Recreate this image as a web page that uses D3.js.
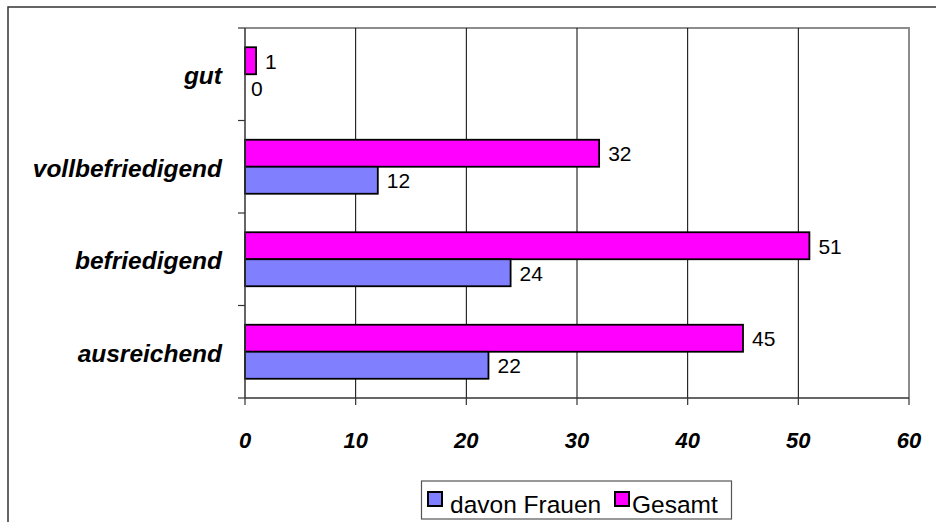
<!DOCTYPE html>
<html>
<head>
<meta charset="utf-8">
<script src="https://cdn.jsdelivr.net/npm/d3@7"></script>
<style>
  body { margin: 0; background: #fff; }
  svg { font-family: Arial, "Liberation Sans", sans-serif; }
</style>
</head>
<body>
<svg id="chart" width="936" height="522"></svg>
<script>
var categories = ['gut', 'vollbefriedigend', 'befriedigend', 'ausreichend'];
var series = ['Gesamt', 'davon Frauen'];
var gesamt = [1, 32, 51, 45];
var frauen = [0, 12, 24, 22];
var xTicks = [0, 10, 20, 30, 40, 50, 60];
var colors = { 'Gesamt': '#ff00ff', 'davon Frauen': '#8080ff' };

var svg = d3.select('#chart');
var pLeft = 245, pRight = 909, pTop = 28, pBottom = 398;

// outer frame
svg.append('path')
    .attr('d', 'M8,530 L8,7 L940,7')
    .attr('fill', 'none').attr('stroke', '#333').attr('stroke-width', 1.5);

var x = d3.scaleLinear().domain([0, 60]).range([pLeft, pRight]);
var y = d3.scaleBand().domain(categories).range([pTop, pBottom]);
var yIn = d3.scaleBand().domain(series).range([0, y.bandwidth()]).paddingOuter(0.713);

// plot border top/right
svg.append('path')
    .attr('d', 'M' + pLeft + ',' + pTop + ' L' + pRight + ',' + pTop + ' L' + pRight + ',' + pBottom)
    .attr('fill', 'none').attr('stroke', '#8c8c8c').attr('stroke-width', 2);

// grid
svg.selectAll('line.grid').data(xTicks.slice(1, -1)).enter().append('line')
    .attr('class', 'grid')
    .attr('x1', d => x(d)).attr('x2', d => x(d))
    .attr('y1', pTop).attr('y2', pBottom)
    .attr('stroke', '#000').attr('stroke-width', 1);

// bars
var rows = [];
categories.forEach(function (c, i) {
    rows.push({ cat: c, s: 'Gesamt', v: gesamt[i] });
    rows.push({ cat: c, s: 'davon Frauen', v: frauen[i] });
});

svg.selectAll('rect.bar').data(rows.filter(d => d.v > 0)).enter().append('rect')
    .attr('class', 'bar')
    .attr('x', x(0))
    .attr('y', d => y(d.cat) + yIn(d.s))
    .attr('width', d => x(d.v) - x(0))
    .attr('height', yIn.bandwidth())
    .attr('fill', d => colors[d.s])
    .attr('stroke', '#000').attr('stroke-width', 1.8);

svg.selectAll('text.val').data(rows).enter().append('text')
    .attr('class', 'val')
    .attr('x', d => x(d.v) + (d.v > 0 ? 9 : 6))
    .attr('y', d => y(d.cat) + yIn(d.s) + yIn.bandwidth() / 2 + 8)
    .attr('font-size', 21)
    .attr('fill', '#000')
    .text(d => d.v);

// axes
var bounds = categories.map(c => y(c)).concat([y.range()[1]]);
svg.append('line')
    .attr('x1', pLeft).attr('x2', pLeft).attr('y1', pTop).attr('y2', pBottom)
    .attr('stroke', '#333').attr('stroke-width', 1.5);
svg.selectAll('line.ytick').data(bounds).enter().append('line')
    .attr('x1', pLeft - 7).attr('x2', pLeft)
    .attr('y1', d => d).attr('y2', d => d)
    .attr('stroke', '#333').attr('stroke-width', 1.2);

svg.append('line')
    .attr('x1', pLeft).attr('x2', pRight).attr('y1', pBottom).attr('y2', pBottom)
    .attr('stroke', '#333').attr('stroke-width', 1.5);
svg.selectAll('line.xtick').data(xTicks).enter().append('line')
    .attr('x1', d => x(d)).attr('x2', d => x(d))
    .attr('y1', pBottom).attr('y2', pBottom + 7)
    .attr('stroke', '#333').attr('stroke-width', 1.2);

svg.selectAll('text.xlab').data(xTicks).enter().append('text')
    .attr('x', d => x(d))
    .attr('y', 448)
    .attr('text-anchor', 'middle')
    .attr('font-size', 22).attr('font-weight', 'bold').attr('font-style', 'italic')
    .text(d => d);

svg.selectAll('text.ylab').data(categories).enter().append('text')
    .attr('x', 222)
    .attr('y', d => y(d) + y.bandwidth() / 2 + 10)
    .attr('text-anchor', 'end')
    .attr('font-size', 24.5).attr('font-weight', 'bold').attr('font-style', 'italic')
    .text(d => d);

// legend
var lg = svg.append('g');
lg.append('rect')
    .attr('x', 421.5).attr('y', 481).attr('width', 310).attr('height', 38)
    .attr('fill', '#fff').attr('stroke', '#555').attr('stroke-width', 1.2);
var items = [
    { s: 'davon Frauen', x: 428, tx: 450 },
    { s: 'Gesamt', x: 615, tx: 632 }
];
lg.selectAll('rect.sw').data(items).enter().append('rect')
    .attr('x', d => d.x).attr('y', 492).attr('width', 14).attr('height', 14)
    .attr('fill', d => colors[d.s]).attr('stroke', '#000').attr('stroke-width', 2);
lg.selectAll('text.lt').data(items).enter().append('text')
    .attr('x', d => d.tx).attr('y', 513)
    .attr('font-size', 24.5)
    .text(d => d.s);
</script>
</body>
</html>
